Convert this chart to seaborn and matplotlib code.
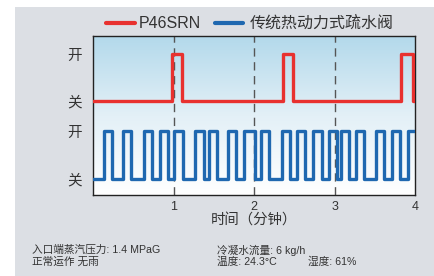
import numpy as np
import pandas as pd
import matplotlib
matplotlib.use("Agg")
import matplotlib.pyplot as plt
from matplotlib.colors import LinearSegmentedColormap
from matplotlib.patches import Rectangle
import seaborn as sns

# ---- data ----
red_name = "P46SRN"
blue_name = "传统热动力式疏水阀"
red_times = [0, 0.98, 1.10, 2.36, 2.49, 3.82, 3.97, 4.0]
red_states = [0, 1, 0, 1, 0, 1, 0, 0]
blue_times = [0, 0.136, 0.235, 0.370, 0.469, 0.630, 0.728, 0.827, 0.926,
              1.012, 1.123, 1.272, 1.383, 1.444, 1.543, 1.679, 1.778,
              1.877, 2.012, 2.086, 2.185, 2.346, 2.444, 2.531, 2.630,
              2.728, 2.840, 2.926, 3.037, 3.086, 3.185, 3.272, 3.370,
              3.519, 3.617, 3.716, 3.815, 3.914, 4.0]
blue_states = [0, 1, 0, 1, 0, 1, 0, 1, 0,
               1, 0, 1, 0, 1, 0, 1, 0,
               1, 0, 1, 0, 1, 0, 1, 0,
               1, 0, 1, 0, 1, 0, 1, 0,
               1, 0, 1, 0, 1, 1]
state_labels = ["关", "开"]
x_ticks = [1, 2, 3, 4]
x_label = "时间（分钟）"
notes_left = ["入口端蒸汽压力: 1.4 MPaG", "正常运作 无雨"]
notes_right = ["冷凝水流量: 6 kg/h", "温度: 24.3°C"]
note_humidity = "湿度: 61%"

sns.set_theme(style="white")
plt.rcParams['font.family'] = ['Liberation Sans', 'Noto Sans CJK SC', 'DejaVu Sans']

RED = "#e8312f"
BLUE = "#1f68b0"
GRAY_BG = "#dcdfe4"
TXT = "#333333"

W, H = 434, 276
fig = plt.figure(figsize=(W / 100, H / 100), dpi=100)
fig.patch.set_facecolor("white")
fig.add_artist(Rectangle((15 / W, 0), 1, (H - 7) / H, transform=fig.transFigure,
                         facecolor=GRAY_BG, edgecolor="none", zorder=0))

ax = fig.add_axes([93 / W, 1 - 195 / H, (415 - 93) / W, (195 - 36) / H])

# level mapping (layout)
red_off, red_scale = 1.625, 0.979
df_red = pd.DataFrame({"t": red_times, "v": [red_off + s * red_scale for s in red_states]})
df_blue = pd.DataFrame({"t": blue_times, "v": [float(s) for s in blue_states]})

sns.lineplot(data=df_red, x="t", y="v", ax=ax, color=RED, lw=2.4,
             drawstyle="steps-post", estimator=None, sort=False, zorder=4)
sns.lineplot(data=df_blue, x="t", y="v", ax=ax, color=BLUE, lw=2.4,
             drawstyle="steps-post", estimator=None, sort=False, zorder=3)

# gradient background
cmap = LinearSegmentedColormap.from_list("bg", ["#ffffff", "#e3f0f7", "#b3d9eb"])
grad = np.linspace(0, 1, 256).reshape(-1, 1)
ax.imshow(grad, extent=[0, 1, 0, 1], transform=ax.transAxes, origin="lower",
          cmap=cmap, aspect="auto", zorder=0)

for xv in x_ticks[:-1]:
    ax.axvline(xv, color="#555555", lw=1.0, ls=(0, (6, 4)), zorder=2)

ax.set_xlim(0, 4)
ax.set_ylim(-0.333, 2.979)
ax.set_xticks(x_ticks)
ax.set_xticklabels([str(v) for v in x_ticks], fontsize=9, color=TXT)
ax.set_yticks([0, 1, red_off, red_off + red_scale])
ax.set_yticklabels([state_labels[0], state_labels[1], state_labels[0], state_labels[1]],
                   fontsize=10.5, color=TXT)
ax.tick_params(axis="both", length=0)
ax.tick_params(axis="x", pad=4)
ax.tick_params(axis="y", pad=8)
ax.set_xlabel(x_label, fontsize=10.4, color=TXT, labelpad=1)
ax.set_ylabel("")
for sp in ax.spines.values():
    sp.set_visible(True)
    sp.set_color("#222222")
    sp.set_linewidth(1.0)

# legend (drawn manually above axes)
ly = 1 - 23 / H
fig.add_artist(plt.Line2D([106 / W, 135 / W], [ly, ly], color=RED, lw=3, transform=fig.transFigure))
fig.text(139 / W, ly, red_name, fontsize=11.5, color=TXT, va="center", ha="left")
fig.add_artist(plt.Line2D([215 / W, 243 / W], [ly, ly], color=BLUE, lw=3, transform=fig.transFigure))
fig.text(250 / W, ly, blue_name, fontsize=11.5, color=TXT, va="center", ha="left")

# notes
fs_note = 7.7
y1, y2 = 1 - 250 / H, 1 - 262 / H
fig.text(32 / W, y1, notes_left[0], fontsize=fs_note, color=TXT, va="center")
fig.text(32 / W, y2, notes_left[1], fontsize=fs_note, color=TXT, va="center")
fig.text(217 / W, y1, notes_right[0], fontsize=fs_note, color=TXT, va="center")
fig.text(217 / W, y2, notes_right[1], fontsize=fs_note, color=TXT, va="center")
fig.text(308 / W, y2, note_humidity, fontsize=fs_note, color=TXT, va="center")

fig.savefig("out.png", dpi=100)
